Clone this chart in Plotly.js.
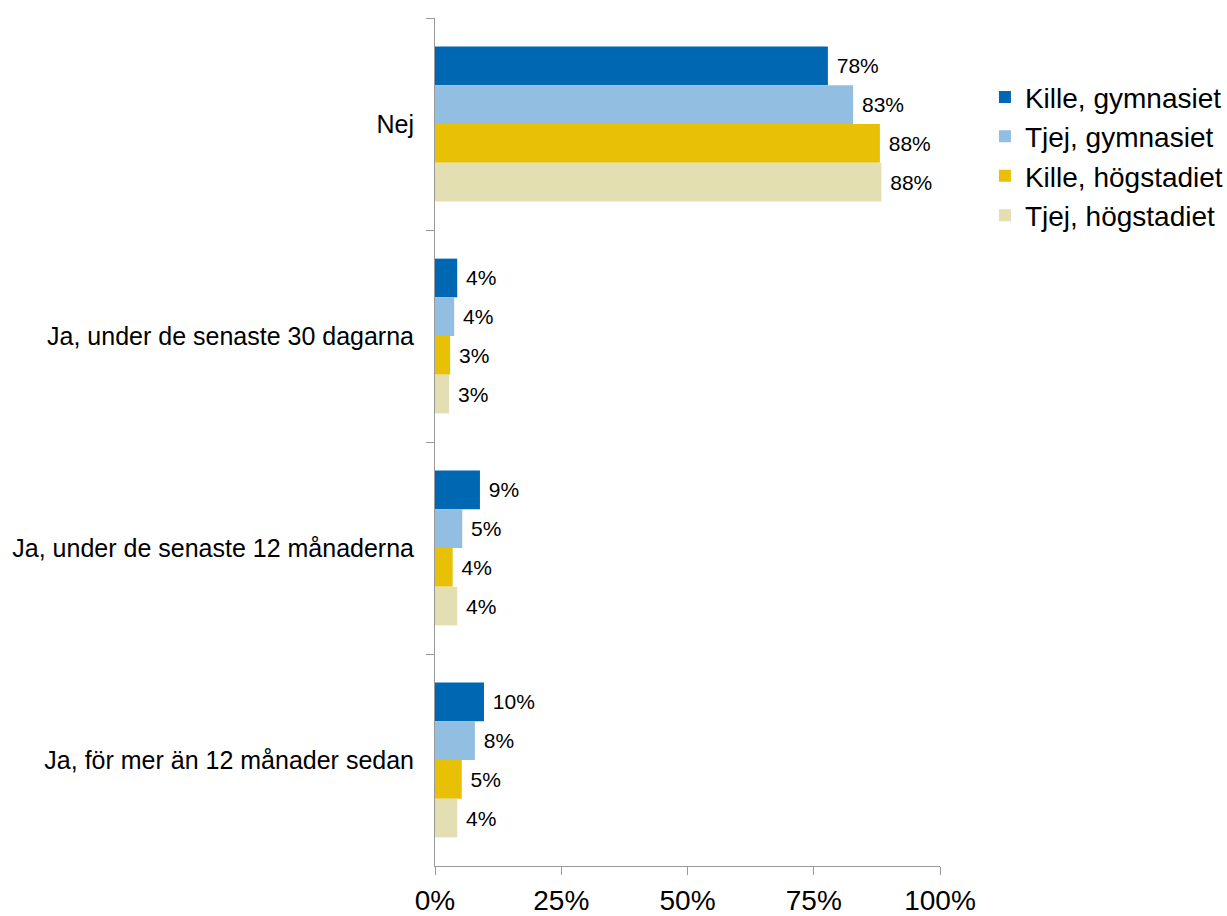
<!DOCTYPE html>
<html><head><meta charset="utf-8">
<script src="https://cdn.plot.ly/plotly-3.0.1.min.js"></script>
<style>html,body{margin:0;padding:0;background:#fff}#c{width:1227px;height:916px}</style>
</head><body><div id="c"></div>
<script>
const categories = ["Nej", "Ja, under de senaste 30 dagarna", "Ja, under de senaste 12 månaderna", "Ja, för mer än 12 månader sedan"];
const seriesNames = ["Kille, gymnasiet", "Tjej, gymnasiet", "Kille, högstadiet", "Tjej, högstadiet"];
const killeGymnasiet = [77.8, 4.4, 8.9, 9.7];
const tjejGymnasiet = [82.8, 3.8, 5.4, 7.9];
const killeHogstadiet = [88.1, 3.0, 3.5, 5.3];
const tjejHogstadiet = [88.4, 2.8, 4.4, 4.4];
const xTickVals = [0, 25, 50, 75, 100];
const colors = ["#0068B3", "#92BEE2", "#E8C107", "#E4DEB3"];

const FONT = "'Liberation Sans', Arial, sans-serif";
const values = [killeGymnasiet, tjejGymnasiet, killeHogstadiet, tjejHogstadiet];
const traces = values.map((v, i) => ({
  type: "bar",
  orientation: "h",
  name: seriesNames[i],
  y: categories,
  x: v,
  marker: {color: colors[i]},
  text: v.map(d => "\u00a0" + Math.round(d) + "%"),
  textposition: "outside",
  textfont: {family: FONT, size: 21, color: "#000"},
  cliponaxis: false,
  hoverinfo: "skip"
}));

const layout = {
  width: 1227, height: 916,
  margin: {l: 435, r: 287, t: 18, b: 50, autoexpand: false},
  paper_bgcolor: "#fff", plot_bgcolor: "#fff",
  font: {family: FONT, color: "#000"},
  barmode: "group",
  bargap: 0.27,
  bargroupgap: 0,
  showlegend: true,
  legend: {
    x: 1.089, y: 0.936, xanchor: "left", yanchor: "top",
    font: {size: 28, color: "#000"},
    traceorder: "normal",
    itemwidth: 30,
    tracegroupgap: 0
  },
  xaxis: {
    range: [0, 100],
    tickvals: xTickVals,
    ticktext: xTickVals.map(t => t + "%"),
    ticks: "outside", ticklen: 8, tickcolor: "#999", tickwidth: 1,
    showline: true, linecolor: "#999", linewidth: 1,
    showgrid: false, zeroline: false,
    tickfont: {size: 28, color: "#000"},
    ticklabelstandoff: 1,
    fixedrange: true
  },
  yaxis: {
    type: "category",
    autorange: "reversed",
    ticks: "outside", ticklen: 8, tickcolor: "#999", tickwidth: 1,
    tickson: "boundaries",
    showline: true, linecolor: "#999", linewidth: 1,
    showgrid: false, zeroline: false,
    tickfont: {size: 25, color: "#000"},
    ticklabelstandoff: 15,
    fixedrange: true
  }
};
Plotly.newPlot("c", traces, layout, {displayModeBar: false, staticPlot: true});
</script></body></html>
